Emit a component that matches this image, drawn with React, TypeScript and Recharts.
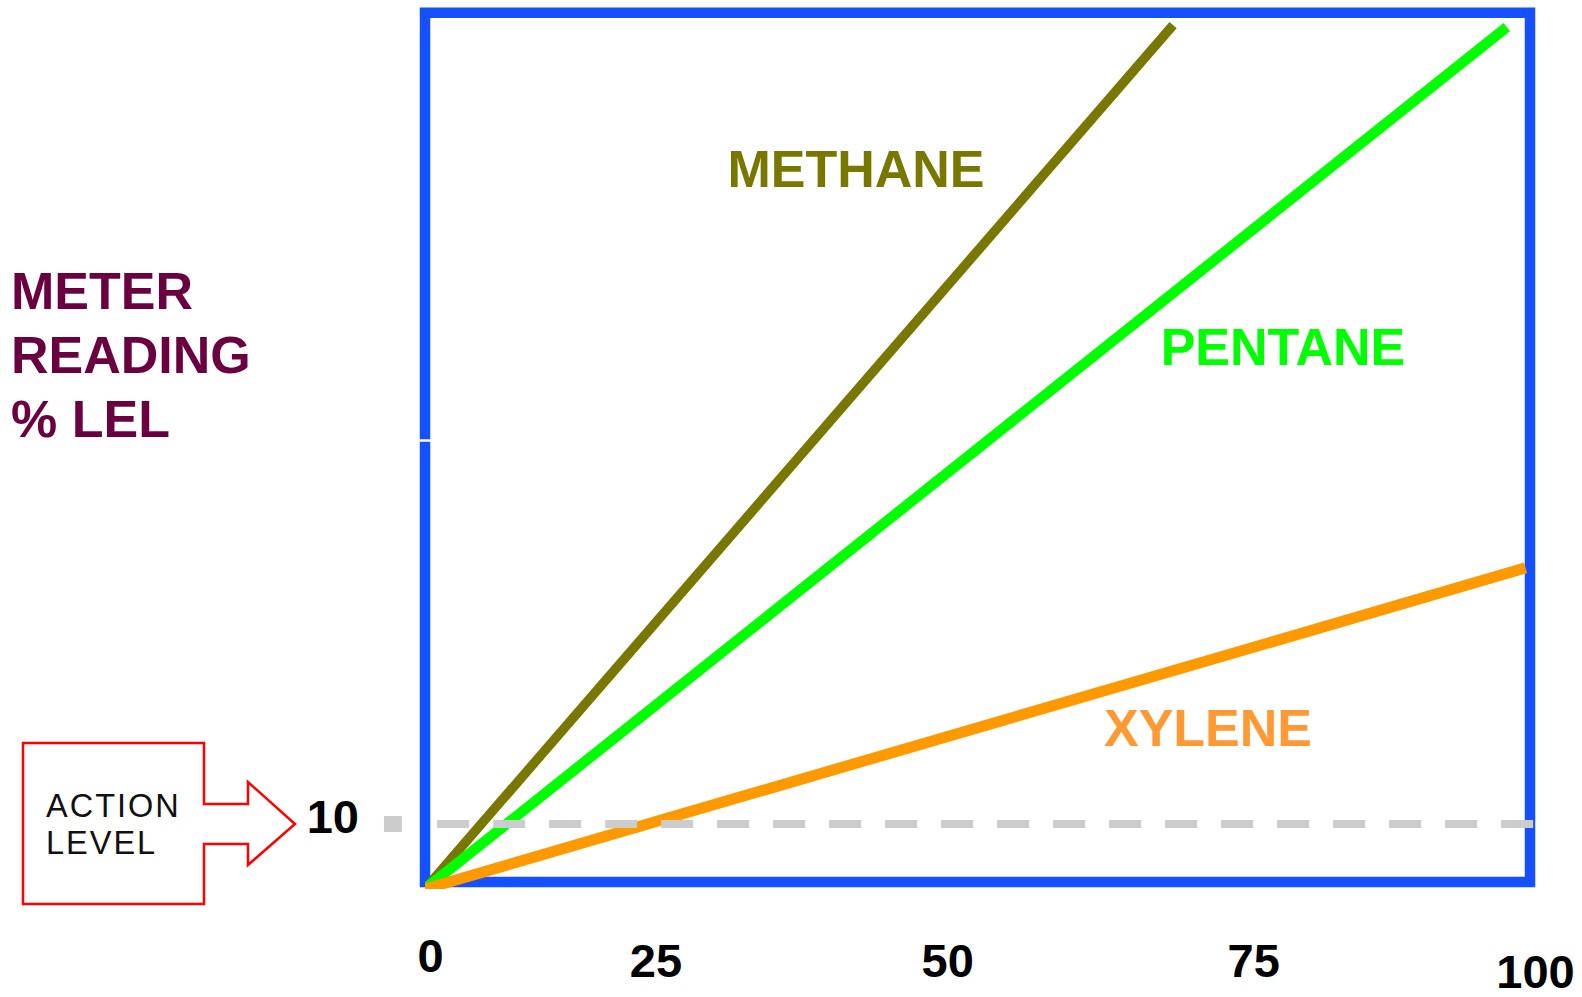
import React from 'react';
import {
  LineChart,
  Line,
  XAxis,
  YAxis,
  ReferenceArea,
  ReferenceLine,
  ReferenceDot,
  Customized,
} from 'recharts';

// ---- data ----
const methaneX = [0, 67.7];
const methaneY = [0, 132.9];
const pentaneX = [0, 97.9];
const pentaneY = [0, 132.6];
const xyleneX = [0, 99.6];
const xyleneY = [0, 49.4];

const seriesNames = ['METHANE', 'PENTANE', 'XYLENE'];

// x tick positions (schematic, as drawn) and their labels
const xTickValues = [0.5, 20.9, 47.3, 75, 100.5];
const xTickLabels = ['0', '25', '50', '75', '100'];
const yTickValues = [10];
const yTickLabels = ['10'];

const actionLevel = 10;
const yAxisTitle = ['METER', 'READING', '% LEL'];
const actionText = ['ACTION', 'LEVEL'];

// frame extents in data units
const frameX = [0, 100];
const frameY = [1.08, 134.8];
const notchY = 69;
const dashX = [1.1, 100.4];
const squareX = -2.9;

const toPoints = (xs: number[], ys: number[]) => xs.map((x, i) => ({ x, y: ys[i] }));
const methaneData = toPoints(methaneX, methaneY);
const pentaneData = toPoints(pentaneX, pentaneY);
const xyleneData = toPoints(xyleneX, xyleneY);

const FONT = '"Liberation Sans", Arial, Helvetica, sans-serif';
const xTickDy = [83, 88, 88, 88, 99];

const XTick = (props: any) => {
  const { x, y, payload } = props;
  const i = xTickValues.indexOf(payload.value);
  if (i < 0) return null;
  return (
    <text x={x} y={y + xTickDy[i]} textAnchor="middle" fontFamily={FONT} fontWeight="bold" fontSize={47} fill="#000">
      {xTickLabels[i]}
    </text>
  );
};

const YTick = (props: any) => {
  const { x, y, payload } = props;
  const i = yTickValues.indexOf(payload.value);
  if (i < 0) return null;
  return (
    <text x={x - 66} y={y + 9} textAnchor="end" fontFamily={FONT} fontWeight="bold" fontSize={47} fill="#000">
      {yTickLabels[i]}
    </text>
  );
};

const Annotations = () => (
  <g>
    {/* y axis title */}
    <text fontFamily={FONT} fontWeight="bold" fontSize={52} fill="#6b0040">
      {yAxisTitle.map((t, i) => (
        <tspan key={t} x={11} y={309 + i * 64}>
          {t}
        </tspan>
      ))}
    </text>
    {/* action level arrow box */}
    <polygon
      points="23,743 204,743 204,804 248,804 248,782 295,824 248,865 248,844 204,844 204,904 23,904"
      fill="#fff"
      stroke="#ff0000"
      strokeWidth={2.5}
    />
    <text fontFamily={FONT} fontSize={32.5} fill="#111" letterSpacing={2}>
      <tspan x={46} y={817}>{actionText[0]}</tspan>
      <tspan x={46} y={854}>{actionText[1]}</tspan>
    </text>
    {/* series names */}
    <text x={856} y={187} textAnchor="middle" fontFamily={FONT} fontWeight="bold" fontSize={52} fill="#787800">
      {seriesNames[0]}
    </text>
    <text x={1283} y={365} textAnchor="middle" fontFamily={FONT} fontWeight="bold" fontSize={52} fill="#00ff00">
      {seriesNames[1]}
    </text>
    <text x={1208} y={746} textAnchor="middle" fontFamily={FONT} fontWeight="bold" fontSize={52} fill="#ff9933">
      {seriesNames[2]}
    </text>
  </g>
);

const SquareShape = (props: any) => {
  const { cx, cy } = props;
  return <rect x={cx - 9} y={cy - 8} width={18} height={16} fill="#cccccc" />;
};

export default function App() {
  return (
    <div style={{ position: 'absolute', left: 0, top: 0, width: 1582, height: 997, background: '#fff' }}>
      <LineChart width={1582} height={997} margin={{ top: 5, right: 52, left: 0, bottom: 0 }}>
        <XAxis
          type="number"
          dataKey="x"
          domain={[0, 100]}
          ticks={xTickValues}
          interval={0}
          height={108}
          axisLine={false}
          tickLine={false}
          tickSize={0}
          tickMargin={0}
          tick={<XTick />}
          allowDataOverflow
        />
        <YAxis
          type="number"
          dataKey="y"
          domain={[0, 136]}
          ticks={yTickValues}
          interval={0}
          width={425}
          axisLine={false}
          tickLine={false}
          tickSize={0}
          tickMargin={0}
          tick={<YTick />}
          allowDataOverflow
        />
        <ReferenceArea
          x1={frameX[0]}
          x2={frameX[1]}
          y1={frameY[0]}
          y2={frameY[1]}
          fill="none"
          fillOpacity={0}
          stroke="#1450ff"
          strokeWidth={10.5}
          ifOverflow="visible"
        />
        <ReferenceLine
          segment={[
            { x: -0.5, y: notchY },
            { x: 0.6, y: notchY },
          ]}
          stroke="#ffffff"
          strokeWidth={2.5}
          ifOverflow="visible"
        />
        <Line data={methaneData} dataKey="y" stroke="#787800" strokeWidth={9.5} dot={false} activeDot={false} isAnimationActive={false} />
        <Line data={pentaneData} dataKey="y" stroke="#00ff00" strokeWidth={10.5} dot={false} activeDot={false} isAnimationActive={false} />
        <Line data={xyleneData} dataKey="y" stroke="#ff9900" strokeWidth={11} dot={false} activeDot={false} isAnimationActive={false} />
        <ReferenceLine
          segment={[
            { x: dashX[0], y: actionLevel },
            { x: dashX[1], y: actionLevel },
          ]}
          stroke="#cccccc"
          strokeWidth={8}
          strokeDasharray="32 24"
          ifOverflow="visible"
        />
        <ReferenceDot x={squareX} y={actionLevel} r={9} shape={<SquareShape />} ifOverflow="visible" />
        <Customized component={<Annotations />} />
      </LineChart>
    </div>
  );
}
